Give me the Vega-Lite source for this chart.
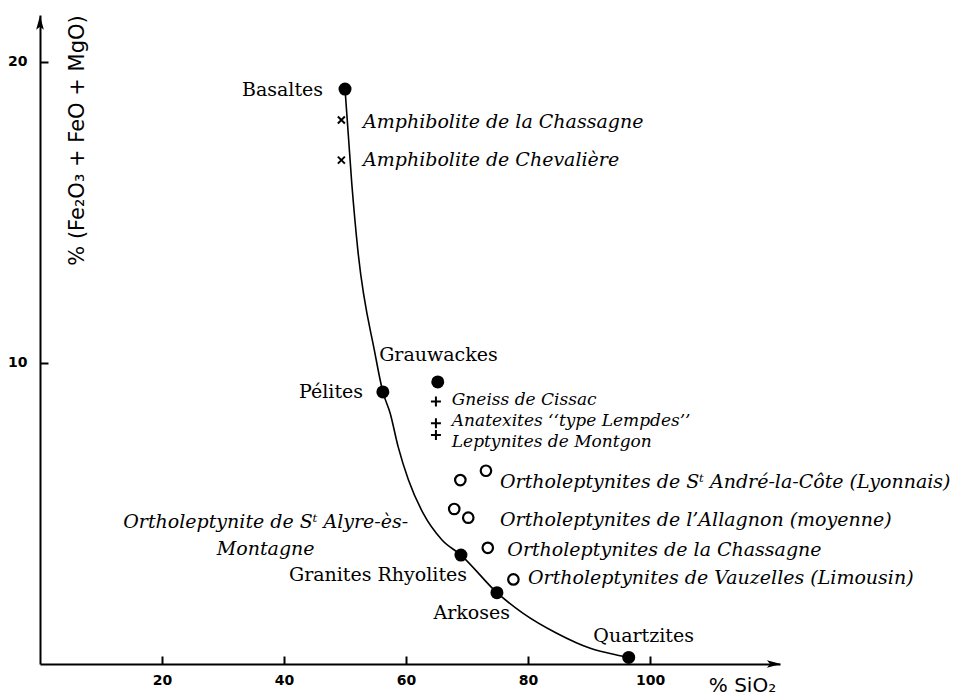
{
  "$schema": "https://vega.github.io/schema/vega-lite/v6.json",
  "width": 740,
  "height": 649,
  "autosize": {"type": "none"},
  "padding": {"left": 40, "top": 15, "right": 195, "bottom": 35},
  "background": "white",
  "config": {
    "view": {"stroke": null},
    "axis": {
      "grid": false,
      "domainColor": "black",
      "domainWidth": 2,
      "tickColor": "black",
      "tickWidth": 2,
      "tickSize": -8,
      "labelFont": "DejaVu Sans",
      "labelFontWeight": "bold",
      "labelFontSize": 14,
      "labelColor": "black",
      "titleFont": "DejaVu Sans",
      "titleFontWeight": "normal",
      "titleColor": "black"
    }
  },
  "datasets": {
    "curve": [
      {"sio2": 50.0, "fem": 19.1},
      {"sio2": 51.1, "fem": 15.98},
      {"sio2": 52.1, "fem": 13.75},
      {"sio2": 54.9, "fem": 10.33},
      {"sio2": 56.2, "fem": 9.04},
      {"sio2": 57.4, "fem": 8.33},
      {"sio2": 58.7, "fem": 7.22},
      {"sio2": 60.4, "fem": 6.11},
      {"sio2": 62.8, "fem": 5.01},
      {"sio2": 65.9, "fem": 4.12},
      {"sio2": 69.0, "fem": 3.62},
      {"sio2": 74.9, "fem": 2.37},
      {"sio2": 79.2, "fem": 1.68},
      {"sio2": 84.7, "fem": 1.02},
      {"sio2": 90.2, "fem": 0.52},
      {"sio2": 94.5, "fem": 0.30},
      {"sio2": 96.5, "fem": 0.22}
    ],
    "rocks": [
      {"name": "Basaltes", "sio2": 50.0, "fem": 19.1},
      {"name": "Pélites", "sio2": 56.2, "fem": 9.04},
      {"name": "Grauwackes", "sio2": 65.2, "fem": 9.37},
      {"name": "Granites Rhyolites", "sio2": 69.0, "fem": 3.62},
      {"name": "Arkoses", "sio2": 74.9, "fem": 2.37},
      {"name": "Quartzites", "sio2": 96.5, "fem": 0.22}
    ],
    "amphibolites": [
      {"name": "Amphibolite de la Chassagne", "sio2": 49.4, "fem": 18.07},
      {"name": "Amphibolite de Chevalière", "sio2": 49.4, "fem": 16.74}
    ],
    "gneiss": [
      {"name": "Gneiss de Cissac", "sio2": 64.9, "fem": 8.72},
      {"name": "Anatexites type Lempdes", "sio2": 64.9, "fem": 8.0},
      {"name": "Leptynites de Montgon", "sio2": 64.9, "fem": 7.61}
    ],
    "ortho": [
      {"name": "Sᵗ André-la-Côte a", "sio2": 68.9, "fem": 6.11},
      {"name": "Sᵗ André-la-Côte b", "sio2": 73.1, "fem": 6.42},
      {"name": "Sᵗ Alyre-ès-Montagne", "sio2": 67.9, "fem": 5.15},
      {"name": "l’Allagnon (moyenne)", "sio2": 70.2, "fem": 4.86},
      {"name": "la Chassagne", "sio2": 73.4, "fem": 3.86},
      {"name": "Vauzelles (Limousin)", "sio2": 77.6, "fem": 2.81}
    ],
    "labelsRight": [
      {"label": "Basaltes", "sio2": 46.4, "fem": 19.07},
      {"label": "Pélites", "sio2": 52.95, "fem": 9.04},
      {"label": "Granites Rhyolites", "sio2": 70.0, "fem": 2.96},
      {"label": "Arkoses", "sio2": 77.05, "fem": 1.69}
    ],
    "labelsLeft": [
      {"label": "Grauwackes", "sio2": 55.6, "fem": 10.27},
      {"label": "Quartzites", "sio2": 90.7, "fem": 0.93}
    ],
    "labelsGneiss": [
      {"label": "Gneiss de Cissac", "sio2": 67.5, "fem": 8.76},
      {"label": "Anatexites ‘‘type Lempdes’’", "sio2": 67.5, "fem": 8.06},
      {"label": "Leptynites de Montgon", "sio2": 67.5, "fem": 7.36}
    ],
    "labelsItalic": [
      {"label": "Amphibolite de la Chassagne", "sio2": 52.95, "fem": 18.0},
      {"label": "Amphibolite de Chevalière", "sio2": 52.95, "fem": 16.74},
      {"label": "Ortholeptynites de Sᵗ André-la-Côte (Lyonnais)", "sio2": 75.4, "fem": 6.05},
      {"label": "Ortholeptynites de l’Allagnon (moyenne)", "sio2": 75.4, "fem": 4.78},
      {"label": "Ortholeptynites de la Chassagne", "sio2": 76.6, "fem": 3.79},
      {"label": "Ortholeptynites de Vauzelles (Limousin)", "sio2": 80.0, "fem": 2.86}
    ],
    "labelsCenter": [
      {"label": "Ortholeptynite de Sᵗ Alyre-ès-\nMontagne", "sio2": 37.0, "fem": 4.73}
    ]
  },
  "encoding": {
    "x": {
      "field": "sio2",
      "type": "quantitative",
      "scale": {"domain": [0, 121.3], "nice": false, "zero": false},
      "axis": {
        "values": [20, 40, 60, 80, 100],
        "labelPadding": 17,
        "title": "% SiO₂",
        "titleFontSize": 20,
        "titleX": 702,
        "titleY": 21,
        "titleAlign": "center",
        "titleBaseline": "middle"
      }
    },
    "y": {
      "field": "fem",
      "type": "quantitative",
      "scale": {"domain": [0, 21.56], "nice": false, "zero": false},
      "axis": {
        "values": [10, 20],
        "labelPadding": 21,
        "title": "% (Fe₂O₃ + FeO + MgO)",
        "titleFontSize": 21,
        "titleX": 37,
        "titleY": 125,
        "titleAngle": 270,
        "titleAlign": "center",
        "titleBaseline": "middle"
      }
    }
  },
  "layer": [
    {
      "data": {"name": "curve"},
      "mark": {"type": "line", "color": "black", "strokeWidth": 1.6, "interpolate": "monotone"},
      "encoding": {}
    },
    {
      "data": {"name": "rocks"},
      "mark": {"type": "point", "shape": "circle", "filled": true, "color": "black", "opacity": 1, "size": 169}
    },
    {
      "data": {"name": "ortho"},
      "mark": {"type": "point", "shape": "circle", "filled": false, "color": "black", "opacity": 1, "size": 110, "strokeWidth": 2.2}
    },
    {
      "data": {"name": "amphibolites"},
      "mark": {"type": "point", "shape": "M-1,-1L1,1M-1,1L1,-1", "filled": false, "color": "black", "opacity": 1, "size": 49, "strokeWidth": 2}
    },
    {
      "data": {"name": "gneiss"},
      "mark": {"type": "point", "shape": "M-1,0L1,0M0,-1L0,1", "filled": false, "color": "black", "opacity": 1, "size": 100, "strokeWidth": 2}
    },
    {
      "data": {"values": [{"sio2": 120.3, "fem": 0}]},
      "mark": {"type": "point", "shape": "M1,0L-1,-0.55L-0.55,0L-1,0.55Z", "filled": true, "color": "black", "opacity": 1, "size": 196}
    },
    {
      "data": {"values": [{"sio2": 0, "fem": 21.3}]},
      "mark": {"type": "point", "shape": "M0,-1L-0.55,1L0,0.55L0.55,1Z", "filled": true, "color": "black", "opacity": 1, "size": 196}
    },
    {
      "data": {"name": "labelsRight"},
      "mark": {"type": "text", "align": "right", "baseline": "middle", "font": "DejaVu Serif", "fontSize": 19, "color": "black"},
      "encoding": {"text": {"field": "label"}}
    },
    {
      "data": {"name": "labelsLeft"},
      "mark": {"type": "text", "align": "left", "baseline": "middle", "font": "DejaVu Serif", "fontSize": 19, "color": "black"},
      "encoding": {"text": {"field": "label"}}
    },
    {
      "data": {"name": "labelsGneiss"},
      "mark": {"type": "text", "align": "left", "baseline": "middle", "font": "DejaVu Serif", "fontStyle": "italic", "fontSize": 17, "color": "black"},
      "encoding": {"text": {"field": "label"}}
    },
    {
      "data": {"name": "labelsItalic"},
      "mark": {"type": "text", "align": "left", "baseline": "middle", "font": "DejaVu Serif", "fontStyle": "italic", "fontSize": 19, "color": "black"},
      "encoding": {"text": {"field": "label"}}
    },
    {
      "data": {"name": "labelsCenter"},
      "mark": {"type": "text", "align": "center", "baseline": "middle", "font": "DejaVu Serif", "fontStyle": "italic", "fontSize": 19, "color": "black", "lineBreak": "\n", "lineHeight": 27},
      "encoding": {"text": {"field": "label"}}
    }
  ]
}
